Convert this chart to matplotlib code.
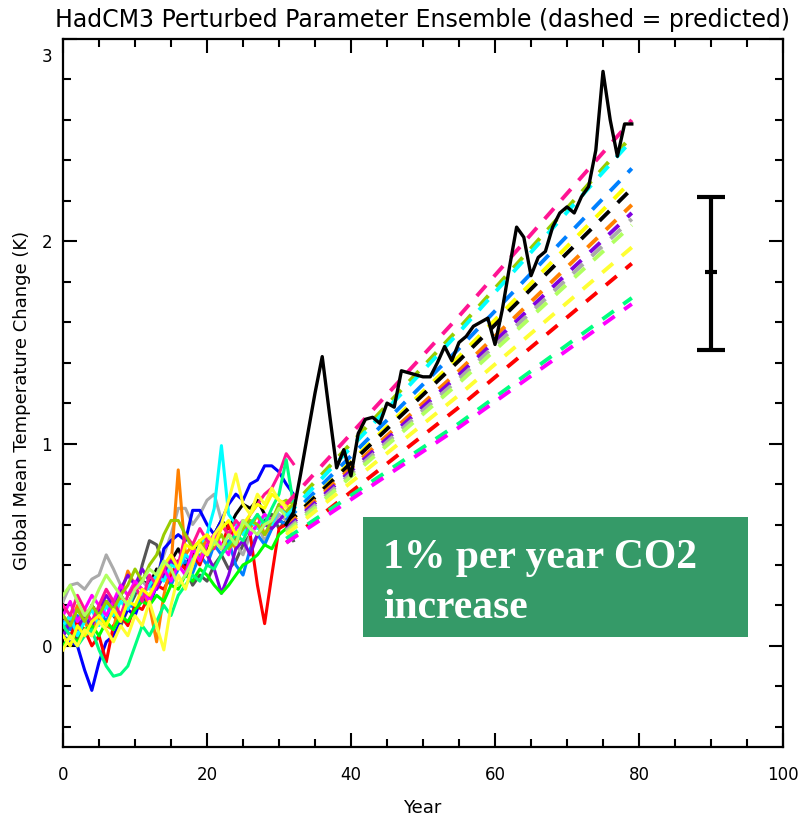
import matplotlib
matplotlib.use('Agg')
import matplotlib.pyplot as plt
import matplotlib.transforms as mtransforms
from matplotlib.patches import Rectangle
from matplotlib.ticker import MultipleLocator

plt.rcParams['font.family'] = ['DejaVu Sans']

# ensemble members, years 0..32
blue = [0.05, 0.02, 0.00, -0.12, -0.22, -0.08, 0.02, 0.05, 0.12, 0.18, 0.15, 0.25, 0.20, 0.30, 0.48, 0.52, 0.55,
        0.52, 0.67, 0.67, 0.60, 0.55, 0.62, 0.70, 0.75, 0.72, 0.80, 0.82, 0.89, 0.89, 0.86, 0.80, 0.75]
red = [0.10, 0.05, 0.12, 0.08, 0.00, 0.05, -0.08, 0.10, 0.15, 0.10, 0.20, 0.18, 0.25, 0.30, 0.28, 0.35, 0.42,
       0.38, 0.45, 0.40, 0.50, 0.55, 0.48, 0.60, 0.52, 0.58, 0.55, 0.30, 0.11, 0.35, 0.58, 0.60, 0.62]
orange = [0.15, 0.10, 0.20, 0.12, 0.05, 0.15, 0.10, 0.08, 0.25, 0.37, 0.30, 0.28, 0.20, 0.02, 0.25, 0.40, 0.87,
          0.45, 0.50, 0.42, 0.55, 0.50, 0.60, 0.55, 0.48, 0.62, 0.58, 0.65, 0.55, 0.60, 0.70, 0.65, 0.62]
lightgray = [0.22, 0.30, 0.31, 0.28, 0.33, 0.35, 0.45, 0.38, 0.30, 0.25, 0.28, 0.32, 0.28, 0.35, 0.45, 0.55, 0.68,
             0.68, 0.60, 0.65, 0.72, 0.75, 0.62, 0.55, 0.50, 0.45, 0.55, 0.60, 0.52, 0.58, 0.65, 0.62, 0.60]
dimgray = [0.05, 0.10, 0.02, 0.15, 0.08, 0.12, 0.20, 0.15, 0.10, 0.18, 0.25, 0.40, 0.52, 0.50, 0.40, 0.35, 0.42,
           0.38, 0.30, 0.35, 0.32, 0.40, 0.45, 0.38, 0.42, 0.50, 0.55, 0.60, 0.62, 0.65, 0.58, 0.62, 0.52]
cyan = [0.10, 0.15, 0.05, 0.12, 0.18, 0.10, 0.20, 0.15, 0.22, 0.18, 0.28, 0.25, 0.30, 0.35, 0.32, 0.40, 0.38,
        0.45, 0.42, 0.50, 0.55, 0.68, 0.99, 0.65, 0.60, 0.55, 0.62, 0.58, 0.65, 0.60, 0.68, 0.65, 0.62]
yellow = [-0.02, 0.05, 0.00, 0.08, 0.05, 0.12, 0.08, 0.02, 0.10, 0.05, 0.15, 0.10, 0.22, 0.10, -0.02, 0.20, 0.35,
          0.28, 0.40, 0.50, 0.45, 0.55, 0.60, 0.72, 0.85, 0.70, 0.65, 0.75, 0.70, 0.78, 0.72, 0.68, 0.65]
yellow2 = [0.05, 0.00, 0.10, 0.05, 0.12, 0.15, 0.10, 0.18, 0.12, 0.22, 0.20, 0.28, 0.25, 0.32, 0.40, 0.45, 0.38,
           0.50, 0.48, 0.52, 0.55, 0.50, 0.58, 0.62, 0.55, 0.60, 0.65, 0.70, 0.68, 0.75, 0.72, 0.70, 0.68]
green = [0.00, 0.05, 0.02, 0.08, 0.10, 0.05, 0.12, 0.08, 0.15, 0.12, 0.18, 0.22, 0.20, 0.25, 0.22, 0.30, 0.28,
         0.35, 0.32, 0.38, 0.35, 0.30, 0.26, 0.30, 0.35, 0.40, 0.42, 0.45, 0.50, 0.48, 0.55, 0.58, 0.60]
springgreen = [0.10, 0.05, 0.00, 0.05, 0.08, -0.02, -0.10, -0.15, -0.14, -0.10, 0.00, 0.10, 0.05, 0.12, 0.20, 0.15,
               0.25, 0.30, 0.35, 0.32, 0.40, 0.38, 0.45, 0.50, 0.55, 0.52, 0.60, 0.65, 0.60, 0.68, 0.75, 0.92, 0.70]
deeppink = [0.20, 0.15, 0.25, 0.18, 0.12, 0.20, 0.28, 0.22, 0.15, 0.25, 0.30, 0.22, 0.35, 0.30, 0.38, 0.45, 0.40,
            0.55, 0.50, 0.58, 0.52, 0.48, 0.60, 0.55, 0.62, 0.58, 0.65, 0.70, 0.75, 0.78, 0.85, 0.95, 0.90]
purple = [0.05, 0.12, 0.08, 0.15, 0.10, 0.18, 0.25, 0.20, 0.28, 0.35, 0.30, 0.38, 0.32, 0.28, 0.35, 0.42, 0.38,
          0.45, 0.40, 0.50, 0.45, 0.38, 0.26, 0.35, 0.48, 0.52, 0.45, 0.55, 0.60, 0.58, 0.62, 0.66, 0.64]
greenyellow = [0.25, 0.30, 0.22, 0.15, 0.20, 0.28, 0.35, 0.30, 0.25, 0.20, 0.28, 0.32, 0.38, 0.35, 0.42, 0.38, 0.30,
               0.35, 0.42, 0.48, 0.45, 0.52, 0.48, 0.55, 0.50, 0.62, 0.58, 0.55, 0.60, 0.62, 0.68, 0.64, 0.60]
yellowgreen = [0.15, 0.10, 0.18, 0.12, 0.20, 0.15, 0.22, 0.18, 0.25, 0.30, 0.38, 0.32, 0.40, 0.45, 0.55, 0.62, 0.62,
               0.55, 0.48, 0.52, 0.45, 0.50, 0.55, 0.48, 0.52, 0.58, 0.62, 0.60, 0.55, 0.62, 0.70, 0.72, 0.70]
dodgerblue = [0.12, 0.08, 0.15, 0.05, 0.10, 0.18, 0.12, 0.20, 0.15, 0.22, 0.18, 0.25, 0.30, 0.28, 0.35, 0.30, 0.38,
              0.42, 0.36, 0.45, 0.40, 0.50, 0.45, 0.52, 0.40, 0.35, 0.48, 0.55, 0.50, 0.58, 0.62, 0.60, 0.64]
magenta = [0.15, 0.22, 0.12, 0.18, 0.25, 0.20, 0.15, 0.22, 0.30, 0.25, 0.32, 0.28, 0.22, 0.30, 0.38, 0.32, 0.40,
           0.35, 0.48, 0.42, 0.50, 0.55, 0.50, 0.45, 0.58, 0.62, 0.55, 0.60, 0.65, 0.62, 0.68, 0.70, 0.66]

# the one member run out to year 79
black_run = [0.10, 0.15, 0.08, 0.12, 0.20, 0.15, 0.22, 0.18, 0.25, 0.20, 0.28, 0.32, 0.30, 0.38, 0.35, 0.42,
             0.48, 0.40, 0.45, 0.52, 0.48, 0.55, 0.62, 0.58, 0.65, 0.70, 0.68, 0.72, 0.65, 0.60, 0.62,
             0.60, 0.66, 0.85, 1.05, 1.25, 1.43, 1.15, 0.88, 0.97, 0.84, 1.05, 1.12, 1.13, 1.10, 1.20, 1.18,
             1.36, 1.35, 1.34, 1.33, 1.33, 1.40, 1.48, 1.41, 1.50, 1.53, 1.58, 1.60, 1.62, 1.49, 1.66, 1.87,
             2.07, 2.02, 1.83, 1.92, 1.95, 2.07, 2.14, 2.17, 2.14, 2.22, 2.27, 2.45, 2.84, 2.60, 2.42, 2.58, 2.58]

members = [
    ('#555555', dimgray), ('#aaaaaa', lightgray), ('#0000ff', blue), ('#0080ff', dodgerblue),
    ('#ff0000', red), ('#ff8000', orange), ('#8000e0', purple), ('#00ffff', cyan), ('#00ff00', green),
    ('#ff00ff', magenta), ('#ff1493', deeppink), ('#99cc00', yellowgreen), ('#00ff80', springgreen),
    ('#ffff00', yellow2), ('#b0ff60', greenyellow), ('#ffff33', yellow),
]

# predicted warming (dashed), years 31, 55, 79
pred_years = [31, 55, 79]
predicted = [
    ('#ff1493', [0.70, 1.63, 2.60]),
    ('#99cc00', [0.66, 1.57, 2.52]),
    ('#00ffff', [0.64, 1.55, 2.50]),
    ('#0080ff', [0.62, 1.47, 2.36]),
    ('#ffff00', [0.60, 1.43, 2.30]),
    ('#000000', [0.60, 1.41, 2.26]),
    ('#ff8000', [0.59, 1.36, 2.18]),
    ('#8000e0', [0.58, 1.34, 2.14]),
    ('#aaaaaa', [0.57, 1.32, 2.11]),
    ('#b0ff60', [0.56, 1.30, 2.08]),
    ('#ffff33', [0.55, 1.24, 1.97]),
    ('#ff0000', [0.51, 1.18, 1.89]),
    ('#00ff80', [0.53, 1.10, 1.72]),
    ('#ff00ff', [0.51, 1.08, 1.69]),
]

# spread of the ensemble predictions at year 90
bar_x = 90
bar_mid = 1.85
bar_lo = 1.465
bar_hi = 2.22

fig = plt.figure(figsize=(8.02, 8.21), dpi=100)
ax = fig.add_axes([0.0786, 0.0901, 0.8977, 0.8624])

n_early = 33
ax.plot(range(n_early), black_run[:n_early], color='k', lw=2.2, zorder=2)
for c, vals in members:
    ax.plot(range(len(vals)), vals, color=c, lw=2.2, zorder=3)

for c, vals in predicted:
    ax.plot(pred_years, vals, color=c, lw=2.8, linestyle=(0, (3.6, 3)), dash_capstyle='butt', zorder=4)

ax.plot(range(31, len(black_run)), black_run[31:], color='k', lw=2.4, zorder=5)

ax.errorbar([bar_x], [bar_mid], yerr=[[bar_mid - bar_lo], [bar_hi - bar_mid]], color='k', lw=3,
            capsize=10, capthick=3.5, marker='_', ms=8, mew=3, zorder=6)

ax.set_xlim(0, 100)
ax.set_ylim(-0.5, 3)
ax.xaxis.set_major_locator(MultipleLocator(20))
ax.xaxis.set_minor_locator(MultipleLocator(5))
ax.yaxis.set_major_locator(MultipleLocator(1))
ax.yaxis.set_minor_locator(MultipleLocator(0.2))
ax.tick_params(which='both', direction='in', top=True, right=True, width=1.5, labelsize=12)
ax.tick_params(which='major', length=10)
ax.tick_params(which='minor', length=6)
ax.tick_params(axis='x', pad=14)
ax.tick_params(axis='y', pad=8)
for s in ax.spines.values():
    s.set_linewidth(1.6)

# top label sits a little below its tick
fig.canvas.draw()
for lab in ax.get_yticklabels():
    if lab.get_text() == '3':
        lab.set_transform(lab.get_transform() + mtransforms.ScaledTranslation(0, -0.16, fig.dpi_scale_trans))

fig.text(0.527, 0.976, 'HadCM3 Perturbed Parameter Ensemble (dashed = predicted)',
         ha='center', va='center', fontsize=17)
fig.text(0.028, 0.512, 'Global Mean Temperature Change (K)', rotation=90,
         ha='center', va='center', fontsize=13)
fig.text(0.527, 0.016, 'Year', ha='center', va='center', fontsize=13)

# annotation box
ax.add_patch(Rectangle((0.4167, 0.155), 0.535, 0.1695, transform=ax.transAxes,
                       facecolor='#359a68', edgecolor='none', zorder=7))
ax.text(0.444, 0.253, '1% per year CO2', transform=ax.transAxes, color='white',
        family='Liberation Serif', weight='bold', fontsize=30, va='baseline', zorder=8)
ax.text(0.444, 0.182, 'increase', transform=ax.transAxes, color='white',
        family='Liberation Serif', weight='bold', fontsize=30, va='baseline', zorder=8)

fig.savefig('out.png', dpi=100)
